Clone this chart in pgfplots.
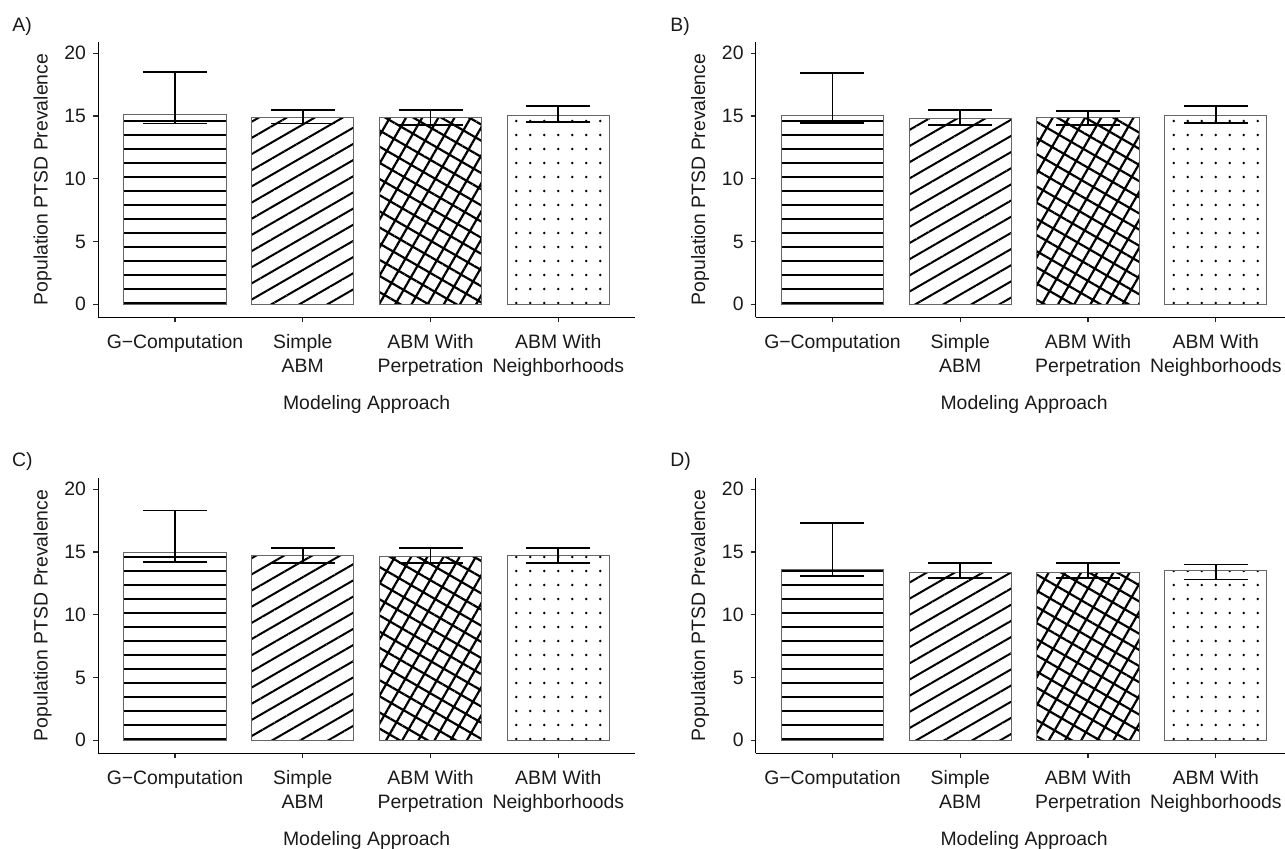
\documentclass[border=0pt]{standalone}
\usepackage{fontspec}
\setmainfont{Liberation Sans}
\usepackage{pgfplots}
\usepackage{pgfplotstable}
\pgfplotsset{compat=1.18}
\usetikzlibrary{patterns.meta}

\definecolor{txt}{HTML}{1A1A1A}

% x = category position, y = prevalence, ep / em = distance to upper / lower end of the interval
\pgfplotstableread{
x y ep em
0 15.10 3.40 0.70
1 14.90 0.60 0.50
2 14.90 0.60 0.60
3 15.00 0.80 0.50
}\dataA
\pgfplotstableread{
x y ep em
0 15.00 3.40 0.55
1 14.80 0.70 0.50
2 14.90 0.50 0.60
3 15.00 0.80 0.55
}\dataB
\pgfplotstableread{
x y ep em
0 14.95 3.35 0.75
1 14.75 0.55 0.60
2 14.65 0.65 0.50
3 14.75 0.55 0.60
}\dataC
\pgfplotstableread{
x y ep em
0 13.60 3.70 0.50
1 13.40 0.70 0.50
2 13.40 0.70 0.50
3 13.50 0.50 0.70
}\dataD

\pgfplotsset{
  panel/.style={
    scale only axis, width=268.35pt, height=137.8pt,
    xmin=-0.6, xmax=3.6, ymin=-1.04, ymax=20.92,
    axis x line*=bottom, axis y line*=left,
    axis line style={line width=0.6pt, black},
    tick align=outside, major tick length=2.6pt,
    tick style={line width=0.6pt, black!85},
    xtick={0,1,2,3},
    xticklabels={{G−Computation},{Simple\\ABM},{ABM With\\Perpetration},{ABM With\\Neighborhoods}},
    xticklabel style={align=center, font=\fontsize{9.7}{12.1}\selectfont, text=txt, yshift=-2.5pt},
    ytick={0,5,10,15,20},
    yticklabel style={font=\fontsize{9.7}{11}\selectfont, text=txt},
    /pgf/number format/assume math mode=true,
    xlabel={Modeling Approach},
    ylabel={Population PTSD Prevalence},
    label style={font=\fontsize{9.7}{11}\selectfont, text=txt},
    xlabel style={at={([yshift=-46pt]axis description cs:0.5,0)}, anchor=base},
    ylabel style={at={([xshift=-27.8pt]axis description cs:0,0.5)}, anchor=center},
    clip=false,
  },
  barbase/.style={ybar, bar width=0.8, draw=black!60, line width=0.5pt, pattern color=black},
  errs/.style={draw=none, mark=none, forget plot,
    error bars/.cd, y dir=both, y explicit, error mark=|,
    error bar style={draw=black, line width=0.9pt},
    error mark options={draw=black, line width=0.9pt, mark size=16pt}},
}

\begin{document}
\begin{tikzpicture}
% ---------- A ----------
\begin{axis}[panel, at={(49.15pt,265.85pt)}, anchor=south west]
\addplot[barbase, pattern={Lines[angle=0,distance=7pt,line width=1pt,yshift=7pt]}] coordinates {(0,15.10)};
\addplot[barbase, pattern={Lines[angle=30,distance=7pt,line width=1pt]}] coordinates {(1,14.90)};
\addplot[barbase, pattern={Hatch[angle=-30,distance=7pt,line width=1.1pt]}] coordinates {(2,14.90)};
\addplot[barbase, pattern={Dots[distance=7pt,radius=0.7pt,xshift=6.15pt,yshift=7pt]}] coordinates {(3,15.00)};
\addplot[errs] table[x=x, y=y, y error plus=ep, y error minus=em] {\dataA};
\end{axis}
% ---------- B ----------
\begin{axis}[panel, at={(377.9pt,265.85pt)}, anchor=south west]
\addplot[barbase, pattern={Lines[angle=0,distance=7pt,line width=1pt,yshift=7pt]}] coordinates {(0,15.00)};
\addplot[barbase, pattern={Lines[angle=30,distance=7pt,line width=1pt]}] coordinates {(1,14.80)};
\addplot[barbase, pattern={Hatch[angle=-30,distance=7pt,line width=1.1pt]}] coordinates {(2,14.90)};
\addplot[barbase, pattern={Dots[distance=7pt,radius=0.7pt,xshift=5.9pt,yshift=7pt]}] coordinates {(3,15.00)};
\addplot[errs] table[x=x, y=y, y error plus=ep, y error minus=em] {\dataB};
\end{axis}
% ---------- C ----------
\begin{axis}[panel, at={(49.15pt,47.85pt)}, anchor=south west]
\addplot[barbase, pattern={Lines[angle=0,distance=7pt,line width=1pt,yshift=6pt]}] coordinates {(0,14.95)};
\addplot[barbase, pattern={Lines[angle=30,distance=7pt,line width=1pt]}] coordinates {(1,14.75)};
\addplot[barbase, pattern={Hatch[angle=-30,distance=7pt,line width=1.1pt]}] coordinates {(2,14.65)};
\addplot[barbase, pattern={Dots[distance=7pt,radius=0.7pt,xshift=6.15pt,yshift=6pt]}] coordinates {(3,14.75)};
\addplot[errs] table[x=x, y=y, y error plus=ep, y error minus=em] {\dataC};
\end{axis}
% ---------- D ----------
\begin{axis}[panel, at={(377.9pt,47.85pt)}, anchor=south west]
\addplot[barbase, pattern={Lines[angle=0,distance=7pt,line width=1pt,yshift=6pt]}] coordinates {(0,13.60)};
\addplot[barbase, pattern={Lines[angle=30,distance=7pt,line width=1pt]}] coordinates {(1,13.40)};
\addplot[barbase, pattern={Hatch[angle=-30,distance=7pt,line width=1.1pt]}] coordinates {(2,13.40)};
\addplot[barbase, pattern={Dots[distance=7pt,radius=0.7pt,xshift=5.9pt,yshift=6pt]}] coordinates {(3,13.50)};
\addplot[errs] table[x=x, y=y, y error plus=ep, y error minus=em] {\dataD};
\end{axis}
% panel letters
\begin{scope}[every node/.style={anchor=base west, inner sep=0pt, font=\fontsize{9.7}{11}\selectfont, text=txt}]
\node at (6pt,408.65pt) {A)};
\node at (335pt,408.65pt) {B)};
\node at (5.85pt,191.15pt) {C)};
\node at (335pt,191.15pt) {D)};
\end{scope}
\pgfresetboundingbox
\path[use as bounding box] (0,0) rectangle (642.5pt,424.5pt);
\end{tikzpicture}
\end{document}
